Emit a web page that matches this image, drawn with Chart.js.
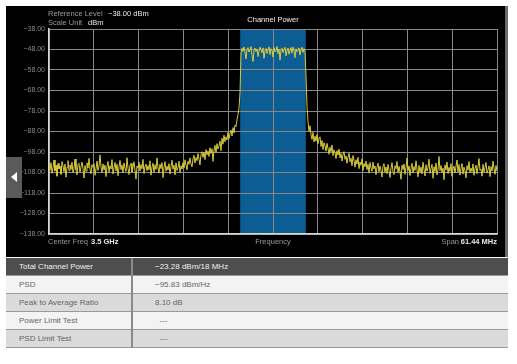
<!DOCTYPE html>
<html>
<head>
<meta charset="utf-8">
<script src="https://cdn.jsdelivr.net/npm/chart.js@4.4.0/dist/chart.umd.min.js"></script>
<style>
  body { margin: 0; background: #fff; font-family: "Liberation Sans", Arial, sans-serif; }
  #panel { position: absolute; left: 6px; top: 6px; width: 502px; height: 251px; background: #000; }
  #wrap { position: absolute; left: 0; top: 0; width: 499px; height: 251px; }
  #edge { position: absolute; left: 499px; top: 0; width: 3px; height: 251px; background: #6a6a6a; }
  #tab { position: absolute; left: 0; top: 151px; width: 16px; height: 41px; background: #5a5a5a; }
  #tab:after { content: ""; position: absolute; left: 5px; top: 15px; border-top: 5px solid transparent;
    border-bottom: 5px solid transparent; border-right: 6px solid #fff; }
  table { position: absolute; left: 6px; top: 258px; width: 502px; border-collapse: collapse; font-size: 8px; }
  td { height: 17px; padding: 0; color: #666; border-bottom: 1px solid #9a9a9a; }
  td.k { width: 112px; padding-left: 13px; border-right: 2px solid #8a8a8a; }
  td.v { padding-left: 22px; }
  tr.h td { background: #4e4e4e; color: #eee; }
  tr.l td { background: #f3f3f3; }
  tr.d td { background: #dadada; }
</style>
</head>
<body>
<div id="panel">
  <div id="wrap"><canvas id="myChart"></canvas></div>
  <div id="edge"></div>
  <div id="tab"></div>
</div>
<table>
  <tr class="h"><td class="k">Total Channel Power</td><td class="v">−23.28 dBm/18 MHz</td></tr>
  <tr class="l"><td class="k">PSD</td><td class="v">−95.83 dBm/Hz</td></tr>
  <tr class="d"><td class="k">Peak to Average Ratio</td><td class="v">8.10 dB</td></tr>
  <tr class="l"><td class="k">Power Limit Test</td><td class="v">&nbsp;&nbsp;---</td></tr>
  <tr class="d"><td class="k">PSD Limit Test</td><td class="v">&nbsp;&nbsp;---</td></tr>
</table>
<script>
// sweep settings (MHz offset from centre)
const spanMHz = 61.44;
const channelBand = [-4.5, 4.5];
const yTicks = [-138, -128, -118, -108, -98, -88, -78, -68, -58, -48, -38];

// trace values in dBm left to right
const lowerFloor = [
  -104.1,-106.9,-103.2,-108.4,-105.7,-101.9,-107.3,-104.5,-109.8,-103.6,
  -106.2,-105.0,-108.9,-102.7,-104.8,-107.6,-103.9,-110.3,-105.4,-102.2,
  -107.1,-104.3,-106.5,-103.0,-108.2,-105.9,-101.4,-106.7,-109.1,-104.0,
  -103.5,-107.9,-105.2,-102.9,-106.0,-110.7,-104.6,-107.4,-103.3,-105.8,
  -101.1,-106.4,-108.6,-104.2,-105.5,-103.7,-109.4,-106.1,-102.4,-107.0,
  -104.9,-99.4,-105.3,-108.0,-103.8,-106.8,-104.4,-110.0,-105.1,-102.6,
  -107.7,-104.7,-106.3,-101.7,-108.7,-105.6,-103.1,-107.2,-104.0,-109.6,
  -105.2,-102.1,-106.6,-104.3,-108.1,-103.4,-105.9,-107.5,-100.8,-106.0,
  -109.0,-104.5,-103.6,-107.8,-105.3,-102.8,-106.9,-111.2,-104.8,-105.7,
  -103.0,-107.3,-104.1,-106.2,-101.6,-108.5,-105.0,-103.9,-107.1,-104.6,
  -106.7,-102.3,-109.3,-105.4,-103.5,-107.9,-104.2,-106.5,-100.9,-105.8,
  -108.3,-104.0,-106.1,-103.2,-110.5,-105.5,-102.7,-107.4,-104.9,-106.8,
  -103.7,-108.8,-105.1,-102.0,-106.4,-104.4,-109.2,-103.3,-107.0,-105.6,
  -102.5,-108.0,-104.7,-106.3
];
const lowerSkirt = [
  -103.2,-105.9,-101.8,-104.4,-106.7,-102.5,-104.0,-100.9,-103.8,-105.2,
  -101.3,-99.6,-103.4,-100.7,-102.2,-98.8,-101.5,-104.3,-99.2,-97.9,
  -100.6,-98.1,-101.7,-96.8,-99.4,-97.5,-100.2,-95.9,-98.7,-96.4,
  -102.6,-97.0,-94.8,-98.3,-93.9,-96.5,-95.1,-92.7,-97.4,-91.3,
  -94.2,-89.8,-93.0,-90.6,-92.1,-88.4,-91.5,-89.0,-87.3,-90.2,
  -86.1,-88.7,-84.9,-85.6,-82.3,-79.8,-76.5,-69.0
];
const inBand = [
  -50.2,-47.4,-48.9,-46.8,-49.7,-52.6,-48.0,-47.1,-49.3,-48.2,
  -46.6,-50.8,-53.9,-48.5,-47.3,-49.0,-47.8,-51.4,-48.7,-46.9,
  -48.1,-49.6,-47.2,-52.3,-48.8,-47.5,-49.9,-48.3,-46.7,-50.5,
  -47.6,-48.4,-51.7,-47.0,-49.2,-48.6,-46.5,-50.0,-47.9,-53.1,
  -48.2,-47.4,-49.5,-48.0,-46.9,-51.1,-48.7,-47.3,-50.3,-48.5,
  -47.1,-49.8,-46.8,-48.3,-52.0,-47.7,-49.1,-48.4,-47.2,-50.7,
  -48.0,-46.9,-49.4,-47.6,-48.8
];
const upperSkirt = [
  -61.0,-75.8,-83.1,-87.9,-85.2,-89.6,-91.8,-88.4,-93.1,-90.3,
  -92.7,-89.5,-94.0,-91.2,-90.6,-95.3,-92.4,-96.8,-93.5,-94.9,
  -97.6,-93.8,-96.2,-99.1,-95.7,-97.9,-94.6,-99.8,-96.9,-98.4,
  -101.2,-97.3,-99.5,-96.6,-100.9,-98.7,-102.4,-99.3,-97.8,-101.6,
  -99.9,-103.5,-100.4,-98.6,-102.8,-101.0,-104.7,-99.7,-102.1,-105.4,
  -101.8,-103.9,-100.6,-106.1,-102.9,-104.5,-101.3,-107.0,-103.6,-105.2,
  -102.4,-106.6,-104.0,-108.3,-103.1,-105.8,-107.4,-102.9,-106.3,-104.8,
  -109.1,-105.5,-103.4,-107.7,-104.9,-106.9,-110.2,-105.0,-103.7,-108.0
];
const upperFloor = [
  -105.3,-108.6,-104.1,-106.9,-110.4,-105.8,-103.2,-107.5,-109.0,-104.7,
  -106.2,-102.6,-108.1,-105.0,-107.8,-111.3,-104.4,-106.6,-103.9,-108.9,
  -105.6,-100.9,-107.2,-104.8,-109.5,-106.0,-103.5,-108.3,-105.1,-107.0,
  -102.3,-106.7,-110.1,-104.5,-107.9,-105.4,-108.7,-103.0,-106.4,-109.7,
  -104.2,-107.3,-105.7,-101.5,-108.4,-106.1,-104.0,-110.8,-105.2,-107.6,
  -103.4,-109.2,-106.5,-100.2,-107.1,-104.6,-108.0,-105.9,-111.5,-104.3,
  -106.8,-102.9,-108.5,-105.5,-107.4,-103.7,-109.9,-106.3,-104.9,-108.2,
  -105.0,-101.9,-107.7,-104.1,-109.3,-106.0,-103.6,-108.8,-105.4,-107.2,
  -110.6,-104.7,-106.9,-102.7,-108.1,-105.8,-107.5,-103.8,-109.4,-106.2,
  -104.4,-108.6,-105.3,-101.2,-107.0,-106.4,-109.8,-104.0,-107.8,-105.6,
  -103.1,-108.3,-106.7,-104.8,-110.0,-105.1,-107.3,-102.5,-106.0,-108.9,
  -104.6,-107.4
];

const trace = [...lowerFloor, ...lowerSkirt, ...inBand, ...upperSkirt, ...upperFloor];
const binWidth = spanMHz / (trace.length - 1);
const points = trace.map((v, i) => ({ x: -spanMHz / 2 + i * binWidth, y: v }));

const FONT = '"Liberation Sans", Arial, sans-serif';

const bandPlugin = {
  id: "band",
  beforeDraw(chart) {
    const { ctx, chartArea, scales } = chart;
    const x0 = scales.x.getPixelForValue(channelBand[0]);
    const x1 = scales.x.getPixelForValue(channelBand[1]);
    ctx.save();
    ctx.fillStyle = "#0b5d93";
    ctx.fillRect(x0, chartArea.top, x1 - x0, chartArea.bottom - chartArea.top);
    ctx.restore();
  },
  afterDraw(chart) {
    const { ctx, chartArea } = chart;
    const mid = (chartArea.left + chartArea.right) / 2;
    ctx.save();
    ctx.font = "7.5px " + FONT;
    ctx.textBaseline = "middle";
    const put = (t, x, y, c, align) => {
      ctx.fillStyle = c;
      ctx.textAlign = align || "left";
      ctx.fillText(t, x, y);
    };
    // header
    put("Reference Level", chartArea.left - 1, 8, "#9a9a9a");
    put("−38.00 dBm", chartArea.left + 59, 8, "#e8e8e8");
    put("Scale Unit", chartArea.left - 1, 17, "#9a9a9a");
    put("dBm", chartArea.left + 39, 17, "#e8e8e8");
    put("Channel Power", mid, 14, "#f0f0f0", "center");
    // footer
    const fy = chartArea.bottom + 8;
    put("Center Freq", chartArea.left - 1, fy, "#9a9a9a");
    ctx.font = "bold 7.5px " + FONT;
    put("3.5 GHz", chartArea.left + 42, fy, "#e8e8e8");
    put("61.44 MHz", chartArea.right, fy, "#e8e8e8", "right");
    ctx.font = "7.5px " + FONT;
    put("Span", chartArea.right - 38, fy, "#9a9a9a", "right");
    put("Frequency", mid, fy, "#9a9a9a", "center");
    ctx.restore();
  }
};

new Chart(document.getElementById("myChart"), {
  type: "line",
  data: {
    datasets: [{
      data: points,
      borderColor: "#d8cc3a",
      borderWidth: 1,
      pointRadius: 0,
      tension: 0
    }]
  },
  options: {
    responsive: true,
    maintainAspectRatio: false,
    animation: false,
    layout: { padding: { top: 23, right: 8, left: 0, bottom: 0 } },
    plugins: { legend: { display: false }, tooltip: { enabled: false } },
    scales: {
      x: {
        type: "linear",
        min: -spanMHz / 2,
        max: spanMHz / 2,
        afterBuildTicks: (s) => { s.ticks = Array.from({ length: 11 }, (_, i) => ({ value: -spanMHz / 2 + i * spanMHz / 10 })); },
        afterFit: (s) => { s.height = 23; },
        ticks: { display: false },
        grid: { color: "#888888", lineWidth: 1, drawTicks: false },
        border: { color: "#d8d8d8", width: 1.5 }
      },
      y: {
        min: -138,
        max: -38,
        afterBuildTicks: (s) => { s.ticks = yTicks.map(v => ({ value: v })); },
        afterFit: (s) => { s.width = 43; },
        ticks: {
          color: "#8a8a8a",
          font: { size: 7, family: FONT },
          padding: 4,
          callback: (v) => "−" + Math.abs(v).toFixed(2)
        },
        grid: { color: "#888888", lineWidth: 1, drawTicks: false },
        border: { color: "#d8d8d8", width: 1.5 }
      }
    }
  },
  plugins: [bandPlugin]
});
</script>
</body>
</html>
